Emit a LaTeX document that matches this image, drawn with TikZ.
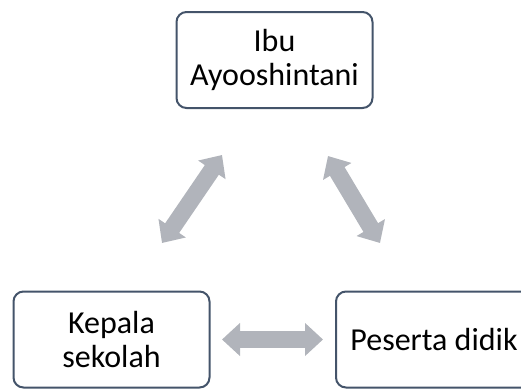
\documentclass[tikz,border=0pt]{standalone}
\usepackage{fontspec}
\setmainfont{Carlito}
\usetikzlibrary{arrows.meta}
\definecolor{boxline}{HTML}{44546A}
\definecolor{arrowgray}{RGB}{177,180,187}
\begin{document}
\begin{tikzpicture}[x=1pt,y=-1pt,
  box/.style={draw=boxline, line width=2pt, rounded corners=10pt, fill=white,
    minimum width=196pt, minimum height=96pt, inner sep=0pt, align=center,
    font=\fontsize{32}{34}\selectfont},
  dblarrow/.style={draw=arrowgray, line width=17pt,
    {Triangle[width=32pt,length=18pt]}-{Triangle[width=32pt,length=18pt]}}]
\useasboundingbox (0,0) rectangle (521,389);
\clip (0,0) rectangle (521,389);
\node[box] (ibu) at (274.5,60) {Ibu\\Ayooshintani};
\node[box] (kepala) at (111.5,339.5) {Kepala\\sekolah};
\node[box] (peserta) at (434,339.5) {Peserta didik};
\coordinate (l1) at (162,243);
\coordinate (l2) at (222,155);
\coordinate (r1) at (328,156);
\coordinate (r2) at (380,243);
\coordinate (h1) at (222,339.5);
\coordinate (h2) at (323,339.5);
\draw[dblarrow] (l1) -- (l2);
\draw[dblarrow] (r1) -- (r2);
\draw[dblarrow] (h1) -- (h2);
\end{tikzpicture}
\end{document}
